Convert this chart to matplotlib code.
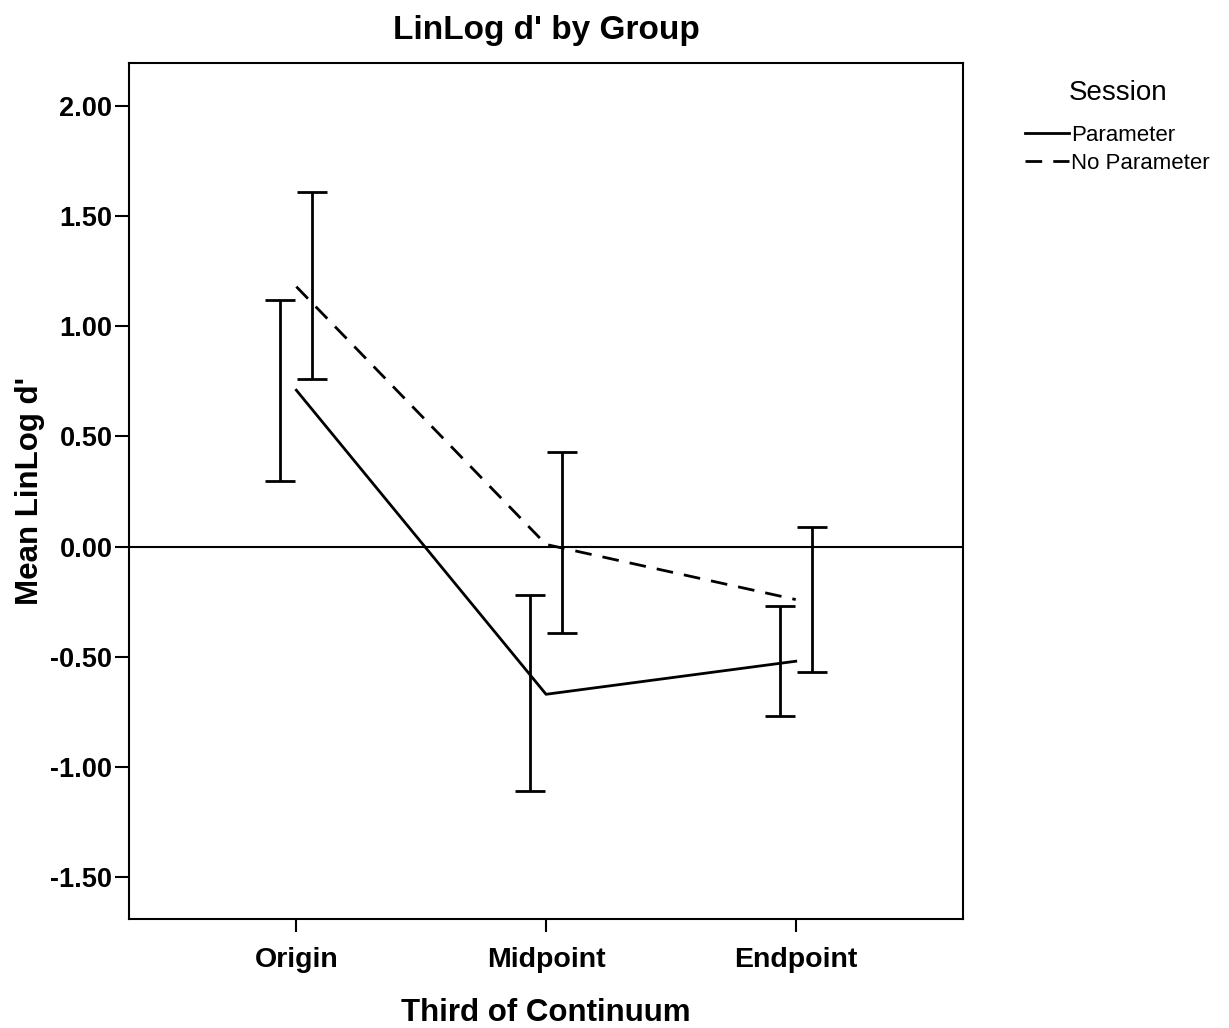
import matplotlib.pyplot as plt
import numpy as np

plt.rcParams['font.family'] = ['Liberation Sans', 'DejaVu Sans']

categories = ['Origin', 'Midpoint', 'Endpoint']
param_mean = [0.71, -0.67, -0.52]
param_low = [0.30, -1.11, -0.77]
param_high = [1.12, -0.22, -0.27]
noparam_mean = [1.18, 0.01, -0.24]
noparam_low = [0.76, -0.39, -0.57]
noparam_high = [1.61, 0.43, 0.09]
yticks = [-1.5, -1.0, -0.5, 0.0, 0.5, 1.0, 1.5, 2.0]

x = np.arange(len(categories))
off = 0.064

fig = plt.figure(figsize=(12.29, 10.28), dpi=100)
ax = fig.add_axes([0.105, 0.106, 0.6786, 0.8327])

ax.axhline(0, color='black', linewidth=1.5, zorder=1)

# lines at category centres
ax.plot(x, param_mean, color='black', linewidth=2, linestyle='-', label='Parameter')
ax.plot(x, noparam_mean, color='black', linewidth=2, linestyle=(0, (6, 4)), label='No Parameter')

# error bars, slightly offset
for xs, lo, hi in [(x - off, param_low, param_high), (x + off, noparam_low, noparam_high)]:
    ax.vlines(xs, lo, hi, color='black', linewidth=2)
    ax.hlines(lo, xs - 0.06, xs + 0.06, color='black', linewidth=2)
    ax.hlines(hi, xs - 0.06, xs + 0.06, color='black', linewidth=2)

ax.set_xlim(-0.67, 2.67)
ax.set_ylim(-1.69, 2.195)
ax.set_xticks(x)
ax.set_xticklabels(categories, fontsize=20.5, fontweight='bold')
ax.set_yticks(yticks)
ax.set_yticklabels([f'{v:.2f}' for v in yticks], fontsize=19.5, fontweight='bold')
ax.tick_params(axis='x', direction='out', length=9, width=1.5, pad=11)
ax.tick_params(axis='y', direction='out', length=10, width=1.5, pad=2)
for s in ax.spines.values():
    s.set_linewidth(1.5)

ax.set_title("LinLog d' by Group", fontsize=24, fontweight='bold', pad=17)
ax.set_xlabel('Third of Continuum', fontsize=22.5, fontweight='bold', labelpad=18)
ax.set_ylabel("Mean LinLog d'", fontsize=22.5, fontweight='bold', labelpad=4)

fig.text(1118 / 1229, 1 - 93 / 1028, 'Session', fontsize=20, ha='center', va='center')
ax.legend(loc='upper left', bbox_to_anchor=(0.827, 0.887), bbox_transform=fig.transFigure,
          frameon=False, fontsize=16, handlelength=1.95, handletextpad=0.1,
          labelspacing=0.3, borderaxespad=0)

fig.savefig('out.png', dpi=100)
